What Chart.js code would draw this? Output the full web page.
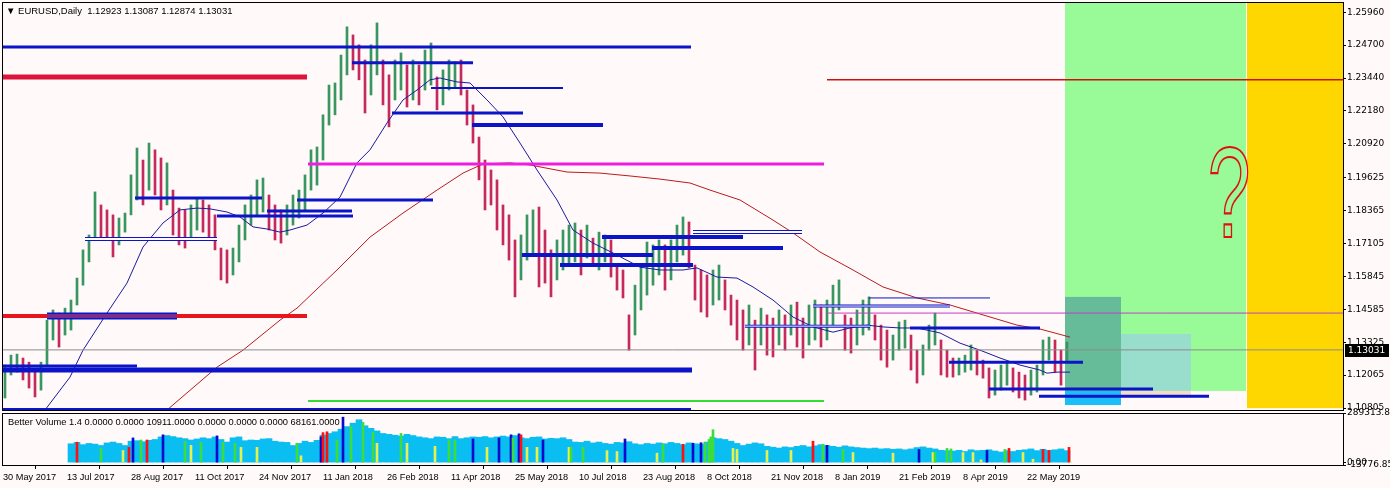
<!DOCTYPE html>
<html>
<head>
<meta charset="utf-8">
<script src="https://cdn.jsdelivr.net/npm/chart.js@4.4.1/dist/chart.umd.min.js"></script>
<style>
    html, body { margin: 0; padding: 0; background: #FFF9F9; }
    #wrap { position: relative; width: 1390px; height: 488px; overflow: hidden; }
    #priceBox { position: absolute; left: 0; top: 0; width: 1390px; height: 411px; }
    #volumeBox { position: absolute; left: 0; top: 404px; width: 1390px; height: 84px; }
</style>
</head>
<body>
<div id="wrap">
    <div id="priceBox"><canvas id="priceChart"></canvas></div>
    <div id="volumeBox"><canvas id="volumeChart"></canvas></div>
</div>
<script>
// EURUSD daily, one entry = 3 trading days (high / low)
const priceHigh = [
    1.1245, 1.1283, 1.1287, 1.1272, 1.1256, 1.1226, 1.1256, 1.1417, 1.1456, 1.1444,
    1.1463, 1.1494, 1.1578, 1.1686, 1.1743, 1.1908, 1.1858, 1.1839, 1.1820, 1.1808,
    1.1827, 1.1973, 1.2076, 1.2030, 1.2095, 1.2069, 1.2038, 1.2019, 1.1915, 1.1846,
    1.1839, 1.1858, 1.1885, 1.1877, 1.1858, 1.1820, 1.1693, 1.1686, 1.1693, 1.1781,
    1.1858, 1.1896, 1.1954, 1.1961, 1.1896, 1.1858, 1.1839, 1.1858, 1.1896, 1.1915,
    1.1973, 1.2069, 1.2080, 1.2203, 1.2317, 1.2325, 1.2432, 1.2540, 1.2509, 1.2471,
    1.2413, 1.2471, 1.2555, 1.2413, 1.2356, 1.2413, 1.2440, 1.2394, 1.2413, 1.2394,
    1.2451, 1.2478, 1.2348, 1.2375, 1.2413, 1.2406, 1.2413, 1.2298, 1.2241, 1.2118,
    1.2030, 1.1992, 1.1954, 1.1858, 1.1820, 1.1724, 1.1743, 1.1820, 1.1839, 1.1850,
    1.1762, 1.1686, 1.1724, 1.1762, 1.1781, 1.1789, 1.1762, 1.1781, 1.1731, 1.1754,
    1.1743, 1.1724, 1.1628, 1.1609, 1.1437, 1.1551, 1.1628, 1.1716, 1.1705, 1.1724,
    1.1705, 1.1724, 1.1781, 1.1812, 1.1793, 1.1628, 1.1609, 1.1590, 1.1609, 1.1628,
    1.1571, 1.1513, 1.1494, 1.1456, 1.1475, 1.1417, 1.1463, 1.1437, 1.1425, 1.1456,
    1.1437, 1.1475, 1.1486, 1.1425, 1.1475, 1.1494, 1.1475, 1.1494, 1.1551, 1.1571,
    1.1437, 1.1425, 1.1456, 1.1494, 1.1506, 1.1437, 1.1398, 1.1379, 1.1360, 1.1410,
    1.1417, 1.1360, 1.1302, 1.1322, 1.1398, 1.1444, 1.1341, 1.1302, 1.1272, 1.1272,
    1.1283, 1.1322, 1.1302, 1.1264, 1.1234, 1.1226, 1.1245, 1.1256, 1.1234, 1.1218,
    1.1207, 1.1226, 1.1245, 1.1341, 1.1352, 1.1341, 1.1302, 1.1333
];
const priceLow = [
    1.1119, 1.1207, 1.1218, 1.1188, 1.1157, 1.1123, 1.1149, 1.1245, 1.1341, 1.1314,
    1.1360, 1.1379, 1.1475, 1.1551, 1.1640, 1.1724, 1.1731, 1.1724, 1.1659, 1.1705,
    1.1754, 1.1820, 1.1877, 1.1858, 1.1915, 1.1896, 1.1839, 1.1858, 1.1743, 1.1705,
    1.1693, 1.1724, 1.1762, 1.1754, 1.1735, 1.1686, 1.1571, 1.1559, 1.1590, 1.1640,
    1.1724, 1.1781, 1.1820, 1.1831, 1.1762, 1.1724, 1.1712, 1.1743, 1.1781, 1.1808,
    1.1839, 1.1915, 1.1934, 1.2030, 1.2164, 1.2203, 1.2260, 1.2356, 1.2375, 1.2337,
    1.2210, 1.2279, 1.2356, 1.2241, 1.2157, 1.2260, 1.2298, 1.2233, 1.2260, 1.2241,
    1.2298, 1.2317, 1.2222, 1.2241, 1.2298, 1.2306, 1.2279, 1.2164, 1.2095, 1.1954,
    1.1839, 1.1858, 1.1762, 1.1705, 1.1647, 1.1506, 1.1571, 1.1647, 1.1666, 1.1544,
    1.1559, 1.1506, 1.1571, 1.1609, 1.1628, 1.1640, 1.1590, 1.1655, 1.1628, 1.1609,
    1.1640, 1.1582, 1.1532, 1.1502, 1.1302, 1.1360, 1.1456, 1.1513, 1.1551, 1.1590,
    1.1532, 1.1571, 1.1640, 1.1666, 1.1617, 1.1494, 1.1448, 1.1429, 1.1475, 1.1494,
    1.1456, 1.1398, 1.1341, 1.1302, 1.1322, 1.1226, 1.1322, 1.1283, 1.1276, 1.1322,
    1.1302, 1.1360, 1.1314, 1.1272, 1.1322, 1.1341, 1.1314, 1.1341, 1.1398, 1.1456,
    1.1302, 1.1291, 1.1322, 1.1360, 1.1379, 1.1341, 1.1264, 1.1237, 1.1264, 1.1302,
    1.1310, 1.1226, 1.1176, 1.1207, 1.1302, 1.1322, 1.1207, 1.1199, 1.1199, 1.1207,
    1.1218, 1.1226, 1.1207, 1.1195, 1.1119, 1.1130, 1.1149, 1.1168, 1.1142, 1.1119,
    1.1111, 1.1130, 1.1142, 1.1207, 1.1264, 1.1218, 1.1168, 1.1256
];

const headerQuote = [1.12923, 1.13087, 1.12874, 1.13031];
const lastClose = 1.13031;

// moving averages (bar index / value)
const blueMaBar = [21, 33.5, 40, 52, 62, 70, 80, 88.5, 97, 103.5, 112, 118.5, 125, 132, 138.5, 143.5, 152, 160, 168.5, 177,
    183.5, 192, 200, 207, 213.5, 218.5, 227, 233.5, 242, 250, 258.5, 267, 277, 285, 295, 305, 318.5, 328.5, 340, 347,
    357, 367, 375, 385, 395, 405, 415, 423.5, 432, 440, 448.5, 457, 468.5, 478.5, 488.5, 498.5, 508.5, 518.5, 522, 527, 533.5];
const blueMaVal = [1.1073, 1.1199, 1.1302, 1.1444, 1.1559, 1.1697, 1.1789, 1.1839, 1.1846, 1.1843, 1.1831, 1.1812, 1.1774, 1.1766, 1.1754, 1.1762, 1.1781, 1.1827, 1.1888, 1.2019,
    1.2069, 1.2172, 1.2260, 1.2298, 1.2337, 1.2344, 1.2329, 1.2325, 1.2260, 1.2195, 1.2095, 1.1992, 1.1877, 1.1762, 1.1712, 1.1674, 1.1620, 1.1609, 1.1609, 1.1617,
    1.1582, 1.1578, 1.1544, 1.1494, 1.1429, 1.1391, 1.1371, 1.1387, 1.1398, 1.1391, 1.1387, 1.1387, 1.1368, 1.1329, 1.1302, 1.1272, 1.1245, 1.1226, 1.1214, 1.1218, 1.1218];
const redMaBar = [82, 107, 120, 138.5, 147, 167, 183.5, 200, 217, 230, 240, 253.5, 263.5, 282, 298.5, 313.5, 328.5, 343.5, 353.5, 368.5,
    385, 395, 408.5, 425, 440, 457, 473.5, 487, 507, 518.5, 533.5];
const redMaVal = [1.1073, 1.1237, 1.1302, 1.1417, 1.1463, 1.1609, 1.1735, 1.1827, 1.1915, 1.1980, 1.2015, 1.2019, 1.2011, 1.1984, 1.1980, 1.1969, 1.1957, 1.1942, 1.1915, 1.1877,
    1.1800, 1.1751, 1.1678, 1.1609, 1.1544, 1.1502, 1.1475, 1.1444, 1.1398, 1.1383, 1.1352];

// horizontal levels drawn on the chart
const levelPrice = [1.2463, 1.2348, 1.2402, 1.2306, 1.2210, 1.2164, 1.2015, 1.1885, 1.1877, 1.1835,
    1.1816, 1.1728, 1.1433, 1.1433, 1.1241, 1.1226, 1.1107, 1.1077, 1.2337, 1.1444,
    1.1754, 1.1735, 1.1693, 1.1666, 1.1628, 1.1502, 1.1471, 1.1394, 1.1387, 1.1256,
    1.1153, 1.1126];
const levelFrom = [0, 0, 174.5, 214, 194.5, 234.5, 152.5, 66, 147, 132,
    107, 41, 0, 22, 0, 0, 152.5, 0, 412, 412,
    345, 299.5, 324.5, 259.5, 278.5, 433, 405, 371, 453.5, 473,
    493, 518];
const levelTo = [344, 152, 235, 280, 260, 300, 410.5, 129.5, 215, 174.5,
    175, 107, 152, 87, 67, 344.5, 410.5, 344, 670, 670,
    399.5, 370, 390, 325, 345, 493.5, 473.5, 433.5, 518.5, 540,
    575, 603];

// rectangles (bar index from/to, price low/high)
const zoneFrom = [531, 622, 531, 531, 559, 559];
const zoneTo = [621.5, 670, 559, 559, 594, 594];
const zoneLow = [1.1146, 1.1080, 1.1146, 1.1092, 1.1146, 1.1130];
const zoneHigh = [1.2635, 1.2635, 1.1506, 1.1146, 1.1364, 1.1146];

const priceTicks = [1.10805, 1.12065, 1.13325, 1.14585, 1.15845, 1.17105, 1.18365, 1.19625, 1.20920, 1.22180, 1.23440, 1.24700, 1.25960];

// Better Volume, one entry = 3 trading days
const volumeValues = [
    null, null, null, null, null, null, null, null, null, null, null,
    110000, 118000, 105000, 112000, 108000, 100000, 115000, 120000, 112000, 100000,
    125000, 128000, 122000, 130000, 135000, 150000, 158000, 152000, 145000, 140000,
    132000, 138000, 145000, 140000, 150000, 135000, 120000, 145000, 150000, 128000,
    132000, 130000, 138000, 140000, 125000, 120000, 118000, 100000, 112000, 125000,
    118000, 130000, 160000, 170000, 180000, 195000, 210000, 230000, 250000, 215000,
    200000, 185000, 170000, 165000, 160000, 155000, 165000, 158000, 150000, 145000,
    140000, 150000, 148000, 140000, 152000, 140000, 145000, 150000, 148000, 152000,
    145000, 150000, 155000, 150000, 158000, 145000, 140000, 148000, 150000, 138000,
    142000, 140000, 145000, 135000, 120000, 118000, 125000, 115000, 120000, 112000,
    108000, 118000, 115000, 122000, 110000, 105000, 112000, 108000, 115000, 110000,
    118000, 112000, 105000, 115000, 110000, 108000, 120000, 145000, 140000, 135000,
    125000, 112000, 100000, 108000, 115000, 110000, 95000, 90000, 85000, 92000,
    88000, 95000, 100000, 92000, 98000, 105000, 100000, 95000, 90000, 98000,
    92000, 88000, 85000, 82000, 85000, 80000, 82000, 78000, 80000, 75000,
    80000, 88000, 92000, 85000, 80000, 72000, 70000, 68000, 72000, 65000,
    75000, 70000, 72000, 75000, 68000, 62000, 70000, 65000, 72000, 75000,
    80000, 70000, 78000, 72000, 75000, 80000, 70000
];
// single coloured volume bars: U climax up, D climax down, C churn, L low volume
const signalBar = [37, 49, 60, 63, 65, 69, 72, 80, 91, 94, 99, 107, 110, 116, 119, 127, 147, 149, 159, 160,
    162, 167, 170, 174, 180, 185, 187, 199, 202, 216, 223, 226, 235, 242, 248, 254, 255, 258, 259, 262,
    267, 270, 283, 284, 290, 302, 307, 311, 327, 330, 340, 345, 349, 351, 353, 354, 355, 365, 367, 382,
    394, 405, 410, 412, 420, 425, 445, 458, 465, 466, 472, 474, 480, 485, 489, 492, 501, 503, 510, 515,
    520, 523, 533, 534];
const signalVol = [119000, 83000, 71000, 89000, 144000, 132000, 132000, 162000, 125000, 101000, 119000, 156000, 119000, 113000, 89000, 89000, 113000, 40000, 150000, 175000,
    180000, 132000, 265000, 210000, 235000, 178000, 113000, 170000, 113000, 95000, 132000, 132000, 138000, 89000, 144000, 162000, 144000, 168000, 162000, 89000,
    89000, 132000, 89000, 89000, 89000, 70000, 65000, 138000, 55000, 110000, 107000, 113000, 116000, 116000, 135000, 150000, 192000, 83000, 77000, 71000,
    71000, 125000, 107000, 101000, 77000, 59000, 55000, 77000, 59000, 59000, 83000, 80000, 59000, 59000, 16000, 71000, 77000, 83000, 59000, 20000,
    77000, 71000, 89000, 5000];
const signalType = 'UCLUDCUDCL' + 'CDCCLLCLDU' + 'UCDCCCLCLL' + 'CCDLDDCDUL' + 'LDLCCLLDLC' +
    'UDDCCCCLLL' + 'LUCDCLLDLC' + 'CCLLLDCULL' + 'UUUL';
const volumeMin = -13776.85;
const volumeMax = 289313.85;
const volumeHeader = [1.4, 0, 0, 10911, 0, 0, 0, 68161];

const tickBars = [0, 32, 64, 96, 128, 160, 192, 224, 256, 288, 320, 352, 384, 416, 448, 480, 512];
const tickLabels = ['30 May 2017', '13 Jul 2017', '28 Aug 2017', '11 Oct 2017', '24 Nov 2017', '11 Jan 2018',
    '26 Feb 2018', '11 Apr 2018', '25 May 2018', '10 Jul 2018', '23 Aug 2018', '8 Oct 2018', '21 Nov 2018',
    '8 Jan 2019', '21 Feb 2019', '8 Apr 2019', '22 May 2019'];

// ---------- looks ----------
const BLUE = '#0B14C8';
const levelLook = [
    [BLUE, 3], ['#DC143C', 5], [BLUE, 3], [BLUE, 2], [BLUE, 3], [BLUE, 4], ['#EE1EE0', 3], [BLUE, 3], [BLUE, 3], [BLUE, 3],
    [BLUE, 3], [BLUE, 4, '#FFF9F9', 2], ['#E8141E', 4], [BLUE, 7, '#7B2D8E', 4], [BLUE, 3], [BLUE, 5], ['#33DD33', 2], [BLUE, 2], ['#D01010', 1.5], ['#C040C0', 1],
    [BLUE, 4, '#FFF9F9', 2], [BLUE, 4], [BLUE, 4], [BLUE, 4], [BLUE, 4], [BLUE, 1], [BLUE, 3, '#FFF9F9', 1], [BLUE, 3, '#FFF9F9', 1], [BLUE, 3], [BLUE, 3],
    [BLUE, 3], [BLUE, 3]
];
const zoneColors = ['#98FB98', '#FFD700', '#66BB99', '#1CBEF8', '#99DDCC', '#F5DCC4'];
const signalColors = { U: '#FF1010', D: '#0A0ACD', C: '#3CDC3C', L: '#E6F050' };
const upColor = '#3A9660';
const downColor = '#C42A5C';
const valueFont = { family: '"DejaVu Sans", sans-serif', size: 9 };
const dateFont = { family: '"Liberation Sans", Arial, sans-serif', size: 9.2 };

const entryBar = priceHigh.map((h, i) => i * 3 + 1);

// keep the axis from pushing the plot area in for its end labels
function fixAxis(size) {
    return (scale) => {
        if (scale.isHorizontal()) {
            scale.height = size;
            scale.paddingLeft = 0;
            scale.paddingRight = 0;
        } else {
            scale.width = size;
            scale.paddingTop = 0;
            scale.paddingBottom = 0;
        }
    };
}

const zonesPlugin = {
    id: 'zones',
    beforeDatasetsDraw(chart) {
        const { ctx, chartArea, scales: { x, y } } = chart;
        ctx.save();
        ctx.beginPath();
        ctx.rect(chartArea.left, chartArea.top, chartArea.right - chartArea.left, chartArea.bottom - chartArea.top);
        ctx.clip();
        zoneFrom.forEach((f, i) => {
            const x0 = x.getPixelForValue(f), x1 = x.getPixelForValue(zoneTo[i]);
            const y0 = y.getPixelForValue(zoneHigh[i]), y1 = y.getPixelForValue(zoneLow[i]);
            ctx.fillStyle = zoneColors[i];
            ctx.fillRect(x0, y0, x1 - x0, y1 - y0);
        });
        ctx.restore();
    }
};

const panelFrame = {
    id: 'panelFrame',
    afterDraw(chart, args, options) {
        const { ctx, chartArea: { left, top, right, bottom } } = chart;
        ctx.save();
        ctx.strokeStyle = '#000';
        ctx.lineWidth = 1;
        ctx.strokeRect(left + 0.5, top + 0.5, right - left, bottom - top);
        if (options.text) {
            ctx.font = options.font;
            ctx.fillStyle = '#000';
            ctx.textBaseline = 'middle';
            ctx.fillText(options.text, left + options.dx, top + options.dy);
        }
        ctx.restore();
    }
};

const priceTag = {
    id: 'priceTag',
    afterDraw(chart) {
        const { ctx, chartArea, scales: { y } } = chart;
        const py = Math.round(y.getPixelForValue(lastClose));
        ctx.save();
        ctx.fillStyle = '#000';
        ctx.fillRect(chartArea.right + 2, py - 6, 44, 13);
        ctx.fillStyle = '#fff';
        ctx.font = '9px "DejaVu Sans", sans-serif';
        ctx.textBaseline = 'middle';
        ctx.fillText(lastClose.toFixed(5), chartArea.right + 5, py + 0.5);
        ctx.restore();
    }
};

const questionMark = {
    id: 'questionMark',
    afterDatasetsDraw(chart) {
        const { ctx, scales: { x, y } } = chart;
        ctx.save();
        ctx.translate(x.getPixelForValue(613), y.getPixelForValue(1.1735));
        ctx.scale(0.6, 1);
        ctx.font = '128px "Liberation Sans", Arial, sans-serif';
        ctx.textAlign = 'center';
        ctx.strokeStyle = '#E01010';
        ctx.lineWidth = 2.2;
        ctx.strokeText('?', 0, 0);
        ctx.restore();
    }
};

// ---------- price chart ----------
const barColors = priceHigh.map((h, i) => {
    if (i === 0) return upColor;
    return (h + priceLow[i]) >= (priceHigh[i - 1] + priceLow[i - 1]) ? upColor : downColor;
});

const levelSets = [];
levelPrice.forEach((p, i) => {
    const look = levelLook[i];
    const pts = [{ x: levelFrom[i], y: p }, { x: levelTo[i], y: p }];
    levelSets.push({ type: 'line', data: pts, borderColor: look[0], borderWidth: look[1], pointRadius: 0, order: 2 });
    if (look[2]) {
        levelSets.push({ type: 'line', data: pts, borderColor: look[2], borderWidth: look[3], pointRadius: 0, order: 1 });
    }
});

const priceCtx = document.getElementById('priceChart').getContext('2d');
new Chart(priceCtx, {
    type: 'bar',
    data: {
        datasets: [
            ...levelSets,
            {
                type: 'line',
                data: [{ x: -0.5, y: lastClose }, { x: 670, y: lastClose }],
                borderColor: '#8C8C8C',
                borderWidth: 1,
                pointRadius: 0,
                order: 3
            },
            {
                type: 'line',
                data: blueMaBar.map((b, i) => ({ x: b, y: blueMaVal[i] })),
                borderColor: '#1A1AA0',
                borderWidth: 1,
                pointRadius: 0,
                order: 4
            },
            {
                type: 'line',
                data: redMaBar.map((b, i) => ({ x: b, y: redMaVal[i] })),
                borderColor: '#B81C1C',
                borderWidth: 1,
                pointRadius: 0,
                order: 4
            },
            {
                type: 'bar',
                data: priceHigh.map((h, i) => ({ x: entryBar[i], y: [priceLow[i], h] })),
                backgroundColor: barColors,
                barThickness: 2,
                grouped: false,
                order: 5
            }
        ]
    },
    options: {
        responsive: true,
        maintainAspectRatio: false,
        animation: false,
        events: [],
        layout: { padding: { left: 2, top: 2, right: 0, bottom: 1 } },
        scales: {
            x: { type: 'linear', min: -0.5, max: 670, offset: false, display: false },
            y: {
                position: 'right',
                min: 1.1073,
                max: 1.2635,
                afterBuildTicks: (scale) => { scale.ticks = priceTicks.map(v => ({ value: v })); },
                afterFit: fixAxis(47),
                grid: { drawOnChartArea: false, tickLength: 3, color: '#000' },
                border: { display: false },
                ticks: {
                    autoSkip: false,
                    padding: 1,
                    color: '#000',
                    font: valueFont,
                    callback: (v) => Number(v).toFixed(5)
                }
            }
        },
        plugins: {
            legend: { display: false },
            tooltip: { enabled: false },
            panelFrame: {
                text: '\u25BC EURUSD,Daily  ' + headerQuote.map(v => v.toFixed(5)).join(' '),
                font: '9.5px "Liberation Sans", Arial, sans-serif',
                dx: 4,
                dy: 9
            }
        }
    },
    plugins: [zonesPlugin, panelFrame, priceTag, questionMark]
});

// ---------- volume chart ----------
const volumeData = [];
volumeValues.forEach((v, i) => { if (v !== null) volumeData.push({ x: entryBar[i], y: v }); });

const volumeCtx = document.getElementById('volumeChart').getContext('2d');
new Chart(volumeCtx, {
    type: 'bar',
    data: {
        datasets: [
            {
                data: signalBar.map((b, i) => ({ x: b, y: signalVol[i] })),
                backgroundColor: signalBar.map((b, i) => signalColors[signalType[i]]),
                barThickness: 2,
                grouped: false,
                order: 0
            },
            {
                data: volumeData,
                backgroundColor: '#0BBEF2',
                barThickness: 6,
                grouped: false,
                order: 1
            }
        ]
    },
    options: {
        responsive: true,
        maintainAspectRatio: false,
        animation: false,
        events: [],
        layout: { padding: { left: 2, top: 9, right: 0, bottom: 0 } },
        scales: {
            x: {
                type: 'linear',
                min: -0.5,
                max: 670,
                offset: false,
                afterBuildTicks: (scale) => { scale.ticks = tickBars.map(v => ({ value: v })); },
                afterFit: fixAxis(23),
                grid: { drawOnChartArea: false, tickLength: 4, color: '#000' },
                border: { display: false },
                ticks: {
                    align: 'start',
                    maxRotation: 0,
                    autoSkip: false,
                    padding: 3,
                    color: '#000',
                    font: dateFont,
                    callback: (v, i) => tickLabels[i]
                }
            },
            y: {
                position: 'right',
                min: volumeMin,
                max: volumeMax,
                afterBuildTicks: (scale) => { scale.ticks = [volumeMin, 0, volumeMax].map(v => ({ value: v })); },
                afterFit: fixAxis(47),
                grid: { drawOnChartArea: false, tickLength: 3, color: '#000' },
                border: { display: false },
                ticks: {
                    autoSkip: false,
                    padding: 1,
                    color: '#000',
                    font: valueFont,
                    callback: (v) => Number(v).toFixed(2)
                }
            }
        },
        plugins: {
            legend: { display: false },
            tooltip: { enabled: false },
            panelFrame: {
                text: 'Better Volume ' + volumeHeader.map((v, i) => i === 0 ? v.toFixed(1) : v.toFixed(4)).join(' '),
                font: '9.3px "Liberation Sans", Arial, sans-serif',
                dx: 6,
                dy: 9
            }
        }
    },
    plugins: [panelFrame]
});
</script>
</body>
</html>
